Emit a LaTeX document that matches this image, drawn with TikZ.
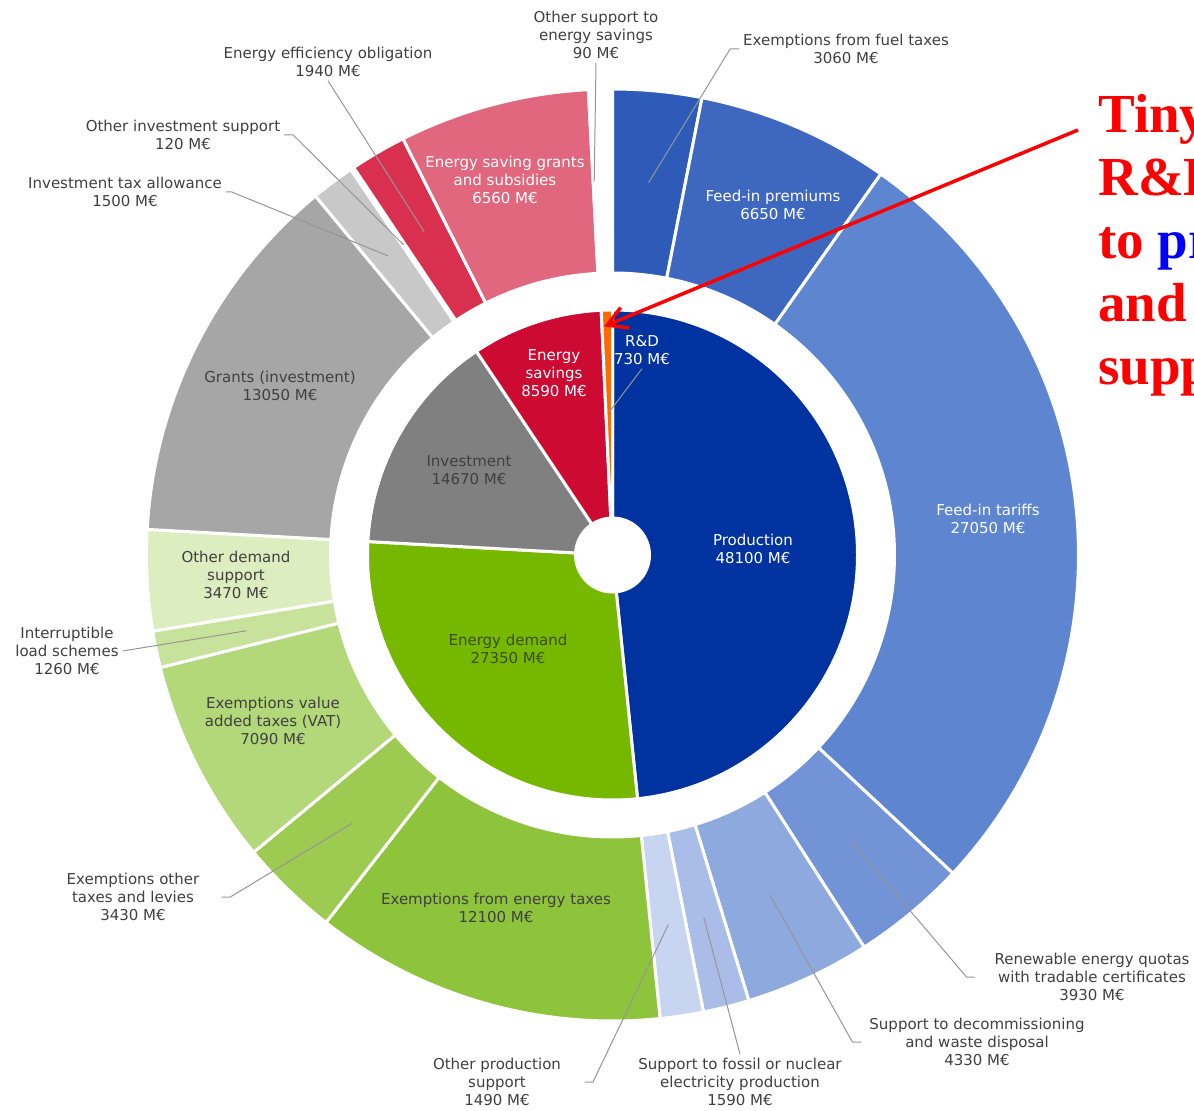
\documentclass[tikz,border=0pt]{standalone}
\usepackage{fontspec}
\setmainfont{DejaVu Sans}
\newfontfamily\notefont{Liberation Serif}
\usepackage{tikz}
\definecolor{prodblue}{RGB}{0,51,160}
\definecolor{fuelblue}{RGB}{46,91,183}
\definecolor{premblue}{RGB}{62,104,192}
\definecolor{tarblue}{RGB}{94,134,208}
\definecolor{quotblue}{RGB}{114,148,214}
\definecolor{decblue}{RGB}{142,169,222}
\definecolor{fosblue}{RGB}{170,189,232}
\definecolor{opblue}{RGB}{200,213,240}
\definecolor{demgreen}{RGB}{118,184,0}
\definecolor{etaxgreen}{RGB}{142,195,60}
\definecolor{otaxgreen}{RGB}{157,203,82}
\definecolor{vatgreen}{RGB}{178,216,122}
\definecolor{intgreen}{RGB}{198,226,155}
\definecolor{odgreen}{RGB}{220,237,191}
\definecolor{invgray}{RGB}{128,128,128}
\definecolor{grantgray}{RGB}{166,166,166}
\definecolor{taxgray}{RGB}{200,200,200}
\definecolor{oigray}{RGB}{224,224,224}
\definecolor{savred}{RGB}{204,10,50}
\definecolor{effred}{RGB}{217,48,79}
\definecolor{sgrred}{RGB}{224,103,125}
\definecolor{osred}{RGB}{240,160,176}
\definecolor{rdorange}{RGB}{255,106,0}
\definecolor{textgray}{RGB}{64,64,64}
\definecolor{demtext}{RGB}{60,78,30}
\definecolor{leadgray}{RGB}{150,150,150}
\newcommand{\ringseg}[5]{\fill [#5, draw=white, line width=1.5pt] (#3:#2) arc [start angle=#3, end angle=#4, radius=#2] -- (#4:#1) arc [start angle=#4, end angle=#3, radius=#1] -- cycle;}

\begin{document}
\begin{tikzpicture}[x=0.5pt,y=0.5pt]
\tikzstyle{every node}+=[inner sep=0pt]
\tikzstyle{lbl}=[text=textgray, align=center, outer sep=2pt, font=\fontsize{7.5}{9}\selectfont]
\tikzstyle{wlbl}=[lbl, text=white]
\tikzstyle{leader}=[leadgray, line width=0.5pt]
\tikzstyle{note}=[text=red, anchor=base west, font=\notefont\bfseries\fontsize{27.5}{31.5}\selectfont]
\useasboundingbox (0,0) rectangle (1194,1110);
\clip (0,0) rectangle (1194,1110);
\begin{scope}[shift={(612.5,555)}]
\ringseg{37}{245}{90}{-84.135}{prodblue}
\ringseg{37}{245}{-84.135}{-183.149}{demgreen}
\ringseg{37}{245}{-183.149}{-236.258}{invgray}
\ringseg{37}{245}{-236.258}{-267.356}{savred}
\ringseg{37}{245}{-267.356}{-270}{rdorange}
\ringseg{282}{466}{90}{78.922}{fuelblue}
\ringseg{282}{466}{78.922}{54.847}{premblue}
\ringseg{282}{466}{54.847}{-43.081}{tarblue}
\ringseg{282}{466}{-43.081}{-57.309}{quotblue}
\ringseg{282}{466}{-57.309}{-72.985}{decblue}
\ringseg{282}{466}{-72.985}{-78.741}{fosblue}
\ringseg{282}{466}{-78.741}{-84.135}{opblue}
\ringseg{282}{466}{-84.135}{-127.940}{etaxgreen}
\ringseg{282}{466}{-127.940}{-140.358}{otaxgreen}
\ringseg{282}{466}{-140.358}{-166.026}{vatgreen}
\ringseg{282}{466}{-166.026}{-170.588}{intgreen}
\ringseg{282}{466}{-170.588}{-183.150}{odgreen}
\ringseg{282}{466}{-183.150}{-230.395}{grantgray}
\ringseg{282}{466}{-230.395}{-235.825}{taxgray}
\ringseg{282}{466}{-235.825}{-236.259}{oigray}
\ringseg{282}{466}{-236.259}{-243.282}{effred}
\ringseg{282}{466}{-243.282}{-267.031}{sgrred}
\ringseg{282}{466}{-267.031}{-267.357}{osred}
\coordinate (lfuel) at (84.461:374);
\coordinate (lofs) at (92.806:374);
\coordinate (leff) at (120.23:374);
\coordinate (loinv) at (123.958:374);
\coordinate (ltax) at (126.89:374);
\coordinate (lintr) at (191.693:374);
\coordinate (lotax) at (225.851:374);
\coordinate (loprod) at (-81.438:374);
\coordinate (lfossil) at (-75.863:374);
\coordinate (ldecom) at (-65.147:374);
\coordinate (lquota) at (-50.195:374);
\coordinate (lrd) at (91.32:143);
\coordinate (atip) at (91.3:230);
\end{scope}
\node [wlbl] (prod) at (753,561) {Production\\48100 M€};
\node [lbl, text=demtext] (edem) at (508,461) {Energy demand\\27350 M€};
\node [lbl] (inv) at (469,640) {Investment\\14670 M€};
\node [wlbl] (esav) at (554,737) {Energy\\savings\\8590 M€};
\node [wlbl] (rd) at (642,760) {R\&D\\730 M€};
\node [wlbl] (prem) at (773,905) {Feed-in premiums\\6650 M€};
\node [wlbl] (tariff) at (988,591) {Feed-in tariffs\\27050 M€};
\node [wlbl] (sgrant) at (505,930) {Energy saving grants\\and subsidies\\6560 M€};
\node [lbl] (ginv) at (280,724) {Grants (investment)\\13050 M€};
\node [lbl] (odem) at (236,535) {Other demand\\support\\3470 M€};
\node [lbl] (vat) at (273,389) {Exemptions value\\added taxes (VAT)\\7090 M€};
\node [lbl] (etax) at (496,202) {Exemptions from energy taxes\\12100 M€};
\node [lbl] (ofs) at (596,1075) {Other support to\\energy savings\\90 M€};
\node [lbl] (fuel) at (846,1061) {Exemptions from fuel taxes\\3060 M€};
\node [lbl] (eff) at (328,1048) {Energy efficiency obligation\\1940 M€};
\node [lbl] (oinv) at (183,975) {Other investment support\\120 M€};
\node [lbl] (tax) at (125,918) {Investment tax allowance\\1500 M€};
\node [lbl] (intr) at (67,459) {Interruptible\\load schemes\\1260 M€};
\node [lbl] (otax) at (133,213) {Exemptions other\\taxes and levies\\3430 M€};
\node [lbl] (oprod) at (497,28) {Other production\\support\\1490 M€};
\node [lbl] (fossil) at (740,28) {Support to fossil or nuclear\\electricity production\\1590 M€};
\node [lbl] (decom) at (977,68) {Support to decommissioning\\and waste disposal\\4330 M€};
\node [lbl] (quota) at (1092,133) {Renewable energy quotas\\with tradable certificates\\3930 M€};
\draw [leader] (fuel.west) -- ++(-9,0) -- (lfuel);
\draw [leader] (ofs.south) -- (lofs);
\draw [leader] (eff.south) -- (leff);
\draw [leader] (oinv.east) -- ++(9,0) -- (loinv);
\draw [leader] (tax.east) -- ++(6,0) -- (ltax);
\draw [leader] (intr.east) -- (lintr);
\draw [leader] (otax.east) ++(18,0) -- ++(9,0) -- (lotax);
\draw [leader] (oprod.east) ++(20,0) -- ++(8,0) -- (loprod);
\draw [leader] (fossil.north) -- (lfossil);
\draw [leader] (decom.west) ++(-4,0) -- ++(-9,0) -- (ldecom);
\draw [leader] (quota.west) ++(-16,0) -- ++(-8,0) -- (lquota);
\draw [leader] (rd.south) -- (lrd);
\coordinate (atail) at (1078,980);
\draw [red, line width=1.75pt] (atail) -- (atip);
\draw [red, line width=1.75pt] (atip) ++(52.5:22) -- (atip) -- ++(-7.5:22);
\node [note] (tiny) at (1098,977) {Tiny};
\node [note] (rnd) at (1098,914) {R\&D};
\node [note] (topr) at (1098,851) {to \textcolor{blue}{pr}};
\node [note] (andw) at (1098,788) {and};
\node [note] (supp) at (1098,725) {supp};
\end{tikzpicture}
\end{document}
